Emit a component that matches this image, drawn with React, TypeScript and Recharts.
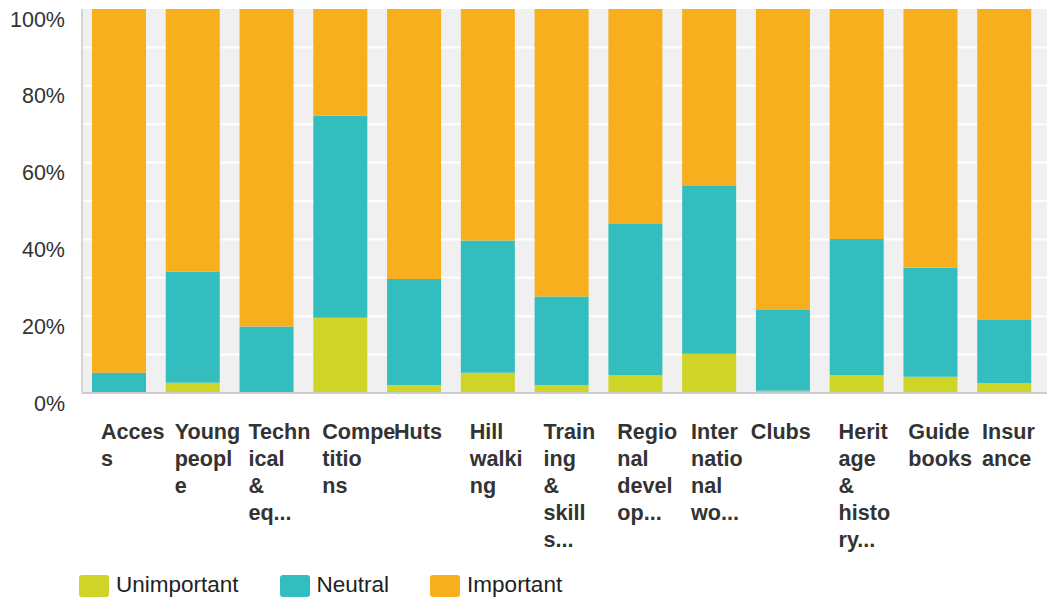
import { BarChart, Bar, XAxis, YAxis, CartesianGrid } from 'recharts';

const categories = [
    'Access',
    'Young people',
    'Technical & equipment',
    'Competitions',
    'Huts',
    'Hill walking',
    'Training & skills',
    'Regional development',
    'International work',
    'Clubs',
    'Heritage & history',
    'Guide books',
    'Insurance',
];

// labels as wrapped in the original
const labelLines = [
    ['Acces', 's'],
    ['Young', 'peopl', 'e'],
    ['Techn', 'ical', '&', 'eq...'],
    ['Compe', 'titio', 'ns'],
    ['Huts'],
    ['Hill', 'walki', 'ng'],
    ['Train', 'ing', '&', 'skill', 's...'],
    ['Regio', 'nal', 'devel', 'op...'],
    ['Inter', 'natio', 'nal', 'wo...'],
    ['Clubs'],
    ['Herit', 'age', '&', 'histo', 'ry...'],
    ['Guide', 'books'],
    ['Insur', 'ance'],
];

const unimportant = [0, 2.7, 0, 19.6, 2.1, 5.3, 2.1, 4.7, 10.2, 0.6, 4.7, 4.2, 2.6];
const neutral = [5.3, 28.9, 17.3, 52.6, 27.6, 34.4, 23.0, 39.3, 43.7, 21.0, 35.4, 28.4, 16.4];
const important = [94.7, 68.4, 82.7, 27.8, 70.3, 60.3, 74.9, 56.0, 46.1, 78.4, 59.9, 67.4, 81.0];

const yTicks = [0, 20, 40, 60, 80, 100];
const gridValues = [10, 20, 30, 40, 50, 60, 70, 80, 90];

const series = [
    { key: 'Unimportant', color: '#CFD527' },
    { key: 'Neutral', color: '#33BDBF' },
    { key: 'Important', color: '#F7AF1E' },
];

const data = categories.map((name, i) => ({
    name,
    Unimportant: unimportant[i],
    Neutral: neutral[i],
    Important: important[i],
}));

const FONT = '"Liberation Sans", Arial, sans-serif';
const PLOT_BOTTOM = 393;
const labelNudge: Record<number, number> = { 4: -2, 9: -14, 11: -4, 12: -4 };

function YTick(props: any) {
    const { y, payload } = props;
    return (
        <text x={65} y={y + 17.5} textAnchor="end" fontSize={21.5} fill="#333" fontFamily={FONT}>
            {`${payload.value}%`}
        </text>
    );
}

function XTick(props: any) {
    const { x, index } = props;
    const lines = labelLines[index] || [];
    const left = x - 18 + (labelNudge[index] || 0);
    return (
        <text x={left} textAnchor="start" fontSize={21.6} fontWeight="bold" fill="#333" fontFamily={FONT}>
            {lines.map((l, i) => (
                <tspan key={i} x={left} y={PLOT_BOTTOM + 45.5 + i * 27.2}>{l}</tspan>
            ))}
        </text>
    );
}

export default function App() {
    return (
        <div style={{ position: 'absolute', left: 0, top: 0, width: 1047, height: 598, background: '#fff', overflow: 'hidden' }}>
            <BarChart width={1047} height={598} data={data} margin={{ top: 9, right: 0, left: 0, bottom: 0 }}>
                <CartesianGrid horizontal vertical={false} horizontalValues={gridValues} stroke="#ffffff" strokeWidth={2} fill="#f0f0f0" />
                <XAxis
                    dataKey="name"
                    height={205}
                    interval={0}
                    padding={{ left: 0, right: 6 }}
                    axisLine={{ stroke: '#cccccc', strokeWidth: 2 }}
                    tickLine={false}
                    tick={<XTick />}
                />
                <YAxis
                    width={82}
                    domain={[0, 100]}
                    ticks={yTicks}
                    allowDataOverflow
                    axisLine={{ stroke: '#d4d4d4', strokeWidth: 2 }}
                    tickLine={false}
                    tick={<YTick />}
                />
                {series.map((s) => (
                    <Bar key={s.key} dataKey={s.key} stackId="a" fill={s.color} barSize={54} isAnimationActive={false} />
                ))}
            </BarChart>
            <div style={{ position: 'absolute', left: 79, top: 575, display: 'flex', gap: 41, fontFamily: FONT, fontSize: 22.5, color: '#222' }}>
                {series.map((s) => (
                    <div key={s.key} style={{ display: 'flex', alignItems: 'center', gap: 7, height: 22 }}>
                        <span style={{ width: 30, height: 22, background: s.color, borderRadius: 3, display: 'inline-block' }} />
                        <span style={{ lineHeight: '22px', position: 'relative', top: -1 }}>{s.key}</span>
                    </div>
                ))}
            </div>
        </div>
    );
}
